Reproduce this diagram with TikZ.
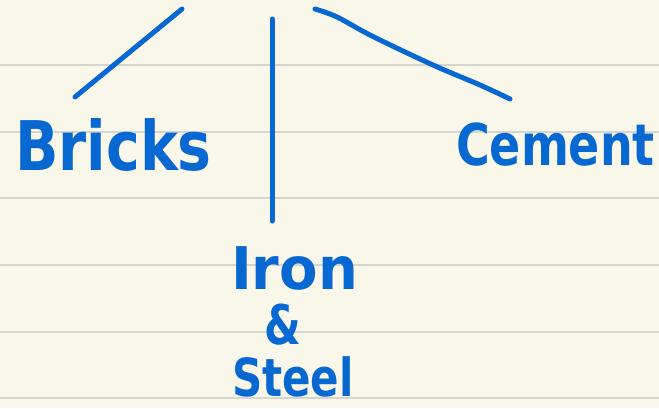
\documentclass[tikz,border=0pt]{standalone}
\usepackage{fontspec}
\newfontfamily\handfont{DejaVu Sans}
\definecolor{paper}{RGB}{249,247,234}
\definecolor{rule}{RGB}{214,214,208}
\definecolor{ink}{RGB}{8,104,210}
\begin{document}
\begin{tikzpicture}[x=1pt,y=-1pt,
  inkline/.style={draw=ink,line width=5pt,line cap=round,line join=round},
  label/.style={text=ink,inner sep=0pt,anchor=base}]
\fill[paper] (0,0) rectangle (659,408);
\useasboundingbox (0,0) rectangle (659,408);
\foreach \yy in {65,132,198,265,332,398}
  \draw[rule,line width=1.8pt] (0,\yy) -- (659,\yy);
% labels
\node[label,font=\handfont\bfseries\fontsize{57}{57}\selectfont] (bricks) at (113.5,170) {\scalebox{1}[1.2]{Bricks}};
\node[label,font=\handfont\bfseries\fontsize{46}{46}\selectfont] (cement) at (555.5,165) {\scalebox{1}[1.25]{Cement}};
\node[label,font=\handfont\bfseries\fontsize{56}{56}\selectfont] (iron) at (294.5,289) {\scalebox{1}[1.05]{Iron}};
\node[label,font=\handfont\bfseries\fontsize{42}{42}\selectfont] (amp) at (282.5,344) {\scalebox{1}[1.3]{\&}};
\node[label,font=\handfont\bfseries\fontsize{42}{42}\selectfont] (steel) at (293,396) {\scalebox{1}[1.25]{Steel}};
% connectors
\coordinate (lt) at (182,9);
\coordinate (lb) at (75,97);
\coordinate (mt) at (272,19);
\coordinate (mb) at (272,221);
\coordinate (rt) at (315,9);
\coordinate (rb) at (510,99);
\draw[inkline] plot[smooth,tension=0.6] coordinates {(rt) (337,17) (372,36) (433,65) (480,85) (rb)};
\draw[inkline] (lt) -- (lb);
\draw[inkline] (mt) -- (mb);
\end{tikzpicture}
\end{document}
